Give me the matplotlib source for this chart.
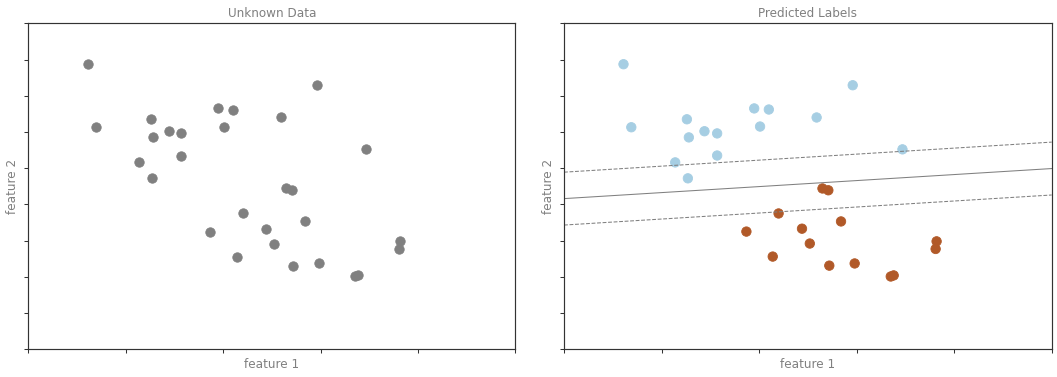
import matplotlib
matplotlib.use("Agg")
import matplotlib.pyplot as plt
import numpy as np

# ---- data ----
feature1 = [-0.39, -0.31, 0.26, 0.28, 0.44, 0.57, 0.14, 0.27, 0.57, 0.95,
            1.10, 1.01, 1.59, 1.96, 2.47,
            1.65, 1.71, 1.20, 0.87, 1.44, 1.84, 1.52, 1.14, 1.72, 1.98,
            2.35, 2.38, 2.82, 2.81]
feature2 = [6.87, 5.13, 5.35, 4.85, 5.02, 4.96, 4.16, 3.72, 4.35, 5.65,
            5.62, 5.15, 5.40, 6.29, 4.52,
            3.44, 3.39, 2.75, 2.25, 2.33, 2.53, 1.92, 1.56, 1.31, 1.37,
            1.01, 1.04, 1.98, 1.77]
predicted = [0] * 15 + [1] * 14

boundary_x = [-1.0, 4.0]
boundary_y = [3.16, 3.99]
margin_offsets = [-0.73, 0.0, 0.73]
margin_styles = ['--', '-', '--']

xlim = (-1, 4)
ylim = (-1, 8)

# ---- figure ----
W, H, DPI = 1057, 377, 100
fig = plt.figure(figsize=(W / DPI, H / DPI), dpi=DPI)

def axes_px(x0, x1, y0, y1):
    return fig.add_axes([x0 / W, 1 - y1 / H, (x1 - x0) / W, (y1 - y0) / H])

ax0 = axes_px(28.3, 515.3, 23.3, 349.3)
ax1 = axes_px(564.0, 1051.7, 23.3, 349.3)

fs = 8.64
point_style = dict(cmap='Paired', s=46, linewidths=0.6, vmin=0, vmax=1)

ax0.scatter(feature1, feature2, c='gray', edgecolors='face', **point_style)
ax1.scatter(feature1, feature2, c=predicted, edgecolors='face', **point_style)

bx = np.array(boundary_x)
by = np.array(boundary_y)
for off, ls in zip(margin_offsets, margin_styles):
    ax1.plot(bx, by + off, color='gray', linestyle=ls, linewidth=0.75)

def format_plot(ax, title):
    ax.set_xlim(*xlim)
    ax.set_ylim(*ylim)
    ax.set_xticks(np.arange(xlim[0], xlim[1] + 0.5, 1))
    ax.set_yticks(np.arange(ylim[0], ylim[1] + 0.5, 1))
    ax.xaxis.set_major_formatter(plt.NullFormatter())
    ax.yaxis.set_major_formatter(plt.NullFormatter())
    ax.tick_params(length=2.6, width=0.75, color='#333333')
    for sp in ax.spines.values():
        sp.set_color('#333333')
        sp.set_linewidth(0.85)
    ax.set_xlabel('feature 1', color='gray', fontsize=fs, labelpad=0.5)
    ax.set_ylabel('feature 2', color='gray', fontsize=fs, labelpad=0.5)
    ax.set_title(title, color='gray', fontsize=fs, pad=4.3)

format_plot(ax0, 'Unknown Data')
format_plot(ax1, 'Predicted Labels')

fig.savefig('out.png', dpi=DPI)
